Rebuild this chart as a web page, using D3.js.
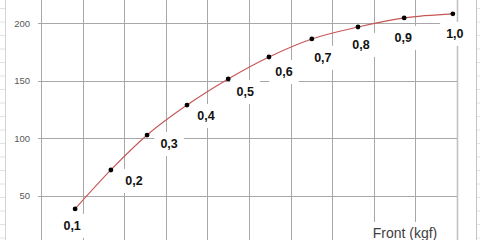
<!DOCTYPE html>
<html>
<head>
<meta charset="utf-8">
<script src="https://cdn.jsdelivr.net/npm/d3@7"></script>
<style>
  html, body { margin: 0; padding: 0; background: #fff; }
  svg { display: block; }
</style>
</head>
<body>
<svg id="chart" width="480" height="240"></svg>
<script>
// ---- data ----
const categories = ["0,1", "0,2", "0,3", "0,4", "0,5", "0,6", "0,7", "0,8", "0,9", "1,0"];
const frontValues = [8.2, 16.8, 25.5, 35.1, 45.0, 54.8, 65.1, 76.2, 87.3, 99.0];
const seriesValues = [38.5, 72.4, 102.8, 128.9, 151.6, 170.7, 186.4, 196.8, 204.7, 208.2];
const yTickLabels = [50, 100, 150, 200];
const xGridValues = [0, 10, 20, 30, 40, 50, 60, 70, 80, 90, 100];
const xTitle = "Front (kgf)";
// label placement offsets (layout, px)
const labelDx = [-3, 23, 22, 19, 17, 15, 11, 3, -1, 2];
const labelDy = [17, 11, 9, 11, 13, 15, 19, 18, 20, 20];

const W = 480, H = 240;
const svg = d3.select("#chart");
const x = d3.scaleLinear().domain([0, 100]).range([41, 457]);
const y = d3.scaleLinear().domain([0, 200]).range([253.2, 23.3]);

// spreadsheet cell lines outside chart
const cellRows = d3.range(0, 18);
svg.append("g").selectAll("line").data(cellRows).join("line")
  .attr("x1", 0).attr("x2", 5).attr("y1", d => 8.5 + d * 13.5).attr("y2", d => 8.5 + d * 13.5)
  .attr("stroke", "#e2e2e2").attr("stroke-width", 1);
svg.append("g").selectAll("line").data(cellRows).join("line")
  .attr("x1", 476).attr("x2", 480).attr("y1", d => 8.5 + d * 13.5).attr("y2", d => 8.5 + d * 13.5)
  .attr("stroke", "#e2e2e2").attr("stroke-width", 1);
svg.append("line").attr("x1", 5.5).attr("x2", 5.5).attr("y1", 0).attr("y2", H)
  .attr("stroke", "#d4d4d4");
svg.append("line").attr("x1", 476.5).attr("x2", 476.5).attr("y1", 0).attr("y2", H)
  .attr("stroke", "#c4c4c4");

// vertical gridlines
svg.append("g").selectAll("line").data(xGridValues).join("line")
  .attr("x1", d => Math.round(x(d)) + 0.5).attr("x2", d => Math.round(x(d)) + 0.5)
  .attr("y1", 0).attr("y2", H)
  .attr("stroke", d => d === 100 ? "#c2c2c2" : "#a8a8a8")
  .attr("stroke-width", d => d === 100 ? 1.6 : 1);

// horizontal gridlines
svg.append("g").selectAll("line").data(yTickLabels).join("line")
  .attr("x1", 38).attr("x2", x(100))
  .attr("y1", d => Math.round(y(d)) + 0.5).attr("y2", d => Math.round(y(d)) + 0.5)
  .attr("stroke", "#a8a8a8").attr("stroke-width", 1);

// y axis labels
const yAxis = d3.axisLeft(y).tickValues(yTickLabels).tickSize(3).tickPadding(8);
const ya = svg.append("g").attr("transform", `translate(${x(0)},0)`).call(yAxis);
ya.select(".domain").remove();
ya.selectAll(".tick line").remove();
ya.selectAll("text")
  .attr("font-family", "Liberation Sans, Arial, sans-serif")
  .attr("font-size", 9.5).attr("fill", "#595959");

// data labels with white boxes
const pts = categories.map((c, i) => ({ c, fx: frontValues[i], v: seriesValues[i], dx: labelDx[i], dy: labelDy[i] }));
const lg = svg.append("g");
const labels = lg.selectAll("g").data(pts).join("g")
  .attr("transform", d => `translate(${x(d.fx) + d.dx},${y(d.v) + d.dy})`);
labels.append("rect").attr("fill", "#fff");
labels.append("text")
  .attr("text-anchor", "middle").attr("dominant-baseline", "central")
  .attr("font-family", "Liberation Sans, Arial, sans-serif")
  .attr("font-size", 12.5).attr("font-weight", "bold").attr("fill", "#111")
  .text(d => d.c);
labels.each(function () {
  const t = d3.select(this).select("text").node().getBBox();
  d3.select(this).select("rect")
    .attr("x", t.x - 6).attr("y", t.y - 5).attr("width", t.width + 12).attr("height", t.height + 10);
});

// curve
const line = d3.line().x(d => x(d.fx)).y(d => y(d.v)).curve(d3.curveMonotoneX);
svg.append("path").datum(pts).attr("d", line)
  .attr("fill", "none").attr("stroke", "#c65555").attr("stroke-width", 1.1);

// markers
svg.append("g").selectAll("circle").data(pts).join("circle")
  .attr("cx", d => x(d.fx)).attr("cy", d => y(d.v)).attr("r", 2.4).attr("fill", "#000");

// axis title (at bottom edge) with white background
const tg = svg.append("g");
const tRect = tg.append("rect").attr("fill", "#fff");
const tText = tg.append("text").attr("x", 405).attr("y", 238).attr("text-anchor", "middle")
  .attr("font-family", "Liberation Sans, Arial, sans-serif")
  .attr("font-size", 14).attr("fill", "#404040").text(xTitle);
const tb = tText.node().getBBox();
tRect.attr("x", tb.x - 6).attr("y", tb.y - 3).attr("width", tb.width + 12).attr("height", H - tb.y + 3);
</script>
</body>
</html>
